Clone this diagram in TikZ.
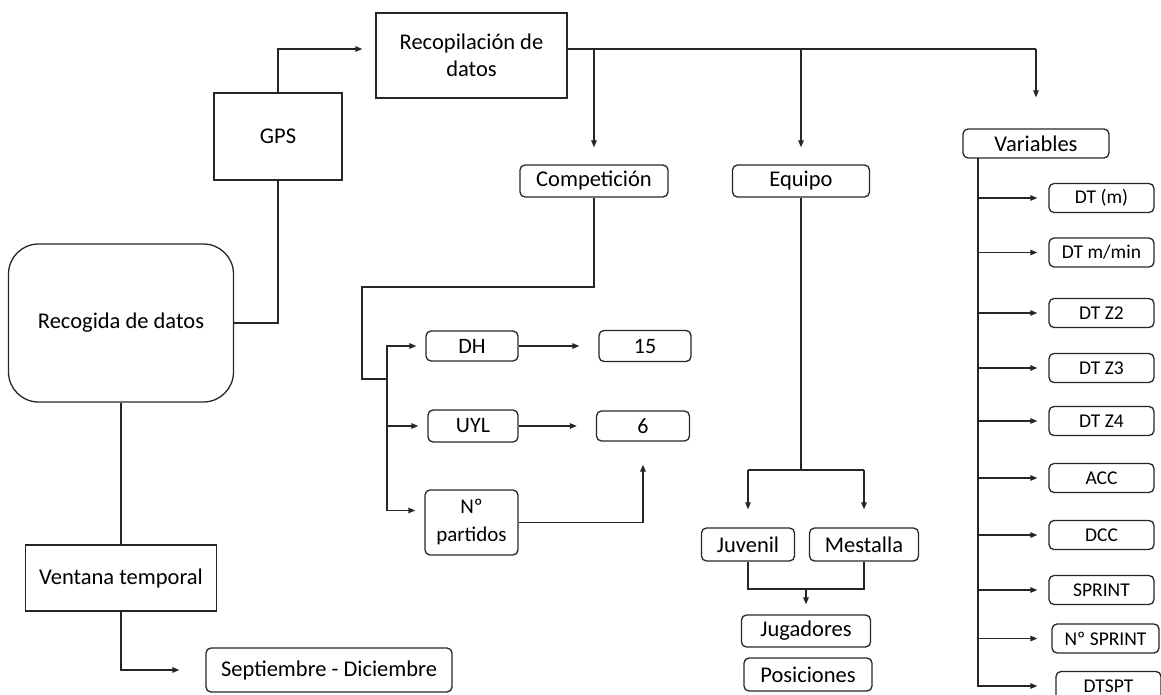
\documentclass[tikz,border=0pt]{standalone}
\usepackage{fontspec}
\setmainfont{Carlito}
\usetikzlibrary{arrows.meta}
\begin{document}
\begin{tikzpicture}[x=1pt,y=-1pt,
  box/.style={draw=black!85, line width=1.3pt, inner sep=0pt, align=center, font=\fontsize{22.5}{27}\selectfont},
  rbox/.style={box, rounded corners=5pt},
  sbox/.style={rbox, font=\fontsize{22}{26}\selectfont},
  vbox/.style={rbox, font=\fontsize{19.5}{23}\selectfont, minimum width=105pt, minimum height=29pt},
  conn/.style={draw=black!85, line width=1.3pt},
  arr/.style={conn, -{Triangle[length=7pt,width=5.5pt]}},
]
\useasboundingbox (0,0) rectangle (1161,695);

% left column
\node[box, minimum width=191pt, minimum height=85pt] (recop) at (471.5,55.5) {Recopilación de\\datos};
\node[box, minimum width=128pt, minimum height=87pt] (gps) at (278,136.5) {GPS};
\node[box, rounded corners=30pt, minimum width=225pt, minimum height=158pt] (recog) at (121,323) {Recogida de datos};
\node[box, minimum width=191pt, minimum height=66pt] (vent) at (121,578) {Ventana temporal};
\node[rbox, minimum width=246pt, minimum height=44pt] (sept) at (329,670) {Septiembre - Diciembre};

% competition
\node[rbox, minimum width=148pt, minimum height=32pt] (comp) at (594,181) {Competición};
\node[sbox, minimum width=92pt, minimum height=30pt] (dh) at (472,346) {DH};
\node[sbox, minimum width=92pt, minimum height=31pt] (n15) at (645,346) {15};
\node[sbox, minimum width=90pt, minimum height=32pt] (uyl) at (473,426) {UYL};
\node[sbox, minimum width=93pt, minimum height=30pt] (n6) at (643,426) {6};
\node[sbox, minimum width=93pt, minimum height=65pt, font=\fontsize{21}{28}\selectfont] (npart) at (471.5,522.5) {Nº\\partidos};

% team
\node[rbox, minimum width=137pt, minimum height=32pt] (equipo) at (801,181) {Equipo};
\node[rbox, minimum width=93pt, minimum height=33pt] (juv) at (748,544.5) {Juvenil};
\node[rbox, minimum width=109pt, minimum height=33pt] (mest) at (864,544.5) {Mestalla};
\node[rbox, minimum width=129pt, minimum height=32pt] (jug) at (806,631) {Jugadores};
\node[rbox, minimum width=128pt, minimum height=33pt] (pos) at (808,674.5) {Posiciones};

% variables
\node[rbox, minimum width=146pt, minimum height=29pt] (vars) at (1036,143.5) {Variables};
\node[vbox] (v1) at (1101.5,198) {DT (m)};
\node[vbox] (v2) at (1101.5,252.5) {DT m/min};
\node[vbox] (v3) at (1101.5,313) {DT Z2};
\node[vbox] (v4) at (1101.5,368) {DT Z3};
\node[vbox] (v5) at (1101.5,421) {DT Z4};
\node[vbox] (v6) at (1101.5,478) {ACC};
\node[vbox] (v7) at (1101.5,535) {DCC};
\node[vbox] (v8) at (1101.5,590) {SPRINT};
\node[vbox, minimum width=107pt] (v9) at (1105.5,638.5) {Nº SPRINT};
\node[vbox] (v10) at (1108.5,686) {DTSPT};

% helper coordinates
\coordinate (tb) at (1036,49);
\coordinate (c1) at (362,287);
\coordinate (c2) at (362,379);
\coordinate (cb) at (387,379);
\coordinate (eq) at (801,470);
\coordinate (jb) at (806,589);
\coordinate (vb) at (978,158);

% connectors
\draw[arr, shorten >=13pt] (gps.north) |- (recop.west |- tb);
\draw[conn] (recog.east) -| (gps.south);
\draw[conn] (recog.south) -- (vent.north);
\draw[arr, shorten >=26pt] (vent.south) |- (sept.west);

\draw[conn] (recop.east |- tb) -- (tb);
\draw[arr, shorten >=17pt] (comp.north |- tb) -- (comp.north);
\draw[arr, shorten >=17pt] (equipo.north |- tb) -- (equipo.north);
\draw[arr, shorten >=31pt] (tb) -- (vars.north);

\draw[conn] (comp.south) |- (c1) -- (c2) -- (cb);
\draw[arr, shorten >=9pt] ([yshift=12pt]npart.west -| cb) |- (dh.west);
\draw[arr, shorten >=9pt] (uyl.west -| cb) -- (uyl.west);
\draw[arr, shorten >=9pt] ([yshift=12pt]npart.west -| cb) -- ([yshift=12pt]npart.west);
\draw[arr, shorten >=19pt] (dh.east) -- (n15.west);
\draw[arr, shorten >=19pt] (uyl.east) -- (n6.west);
\draw[arr, shorten >=23pt] (npart.east) -| (n6.south);

\draw[conn] (equipo.south) -- (eq);
\draw[conn] (juv.north |- eq) -- (mest.north |- eq);
\draw[arr, shorten >=18pt] (juv.north |- eq) -- (juv.north);
\draw[arr, shorten >=18pt] (mest.north |- eq) -- (mest.north);
\draw[conn] (juv.south) |- (jb) -| (mest.south);
\draw[arr, shorten >=10pt] (jb) -- (jug.north);

\draw[arr, shorten >=18pt] (vb) |- (v10.west);
\foreach \v in {v1,v2,v3,v4,v5,v6,v7,v8}
  \draw[arr, shorten >=11pt] (vb |- \v.west) -- (\v.west);
\draw[arr, shorten >=14pt] (vb |- v9.west) -- (v9.west);
\end{tikzpicture}
\end{document}
